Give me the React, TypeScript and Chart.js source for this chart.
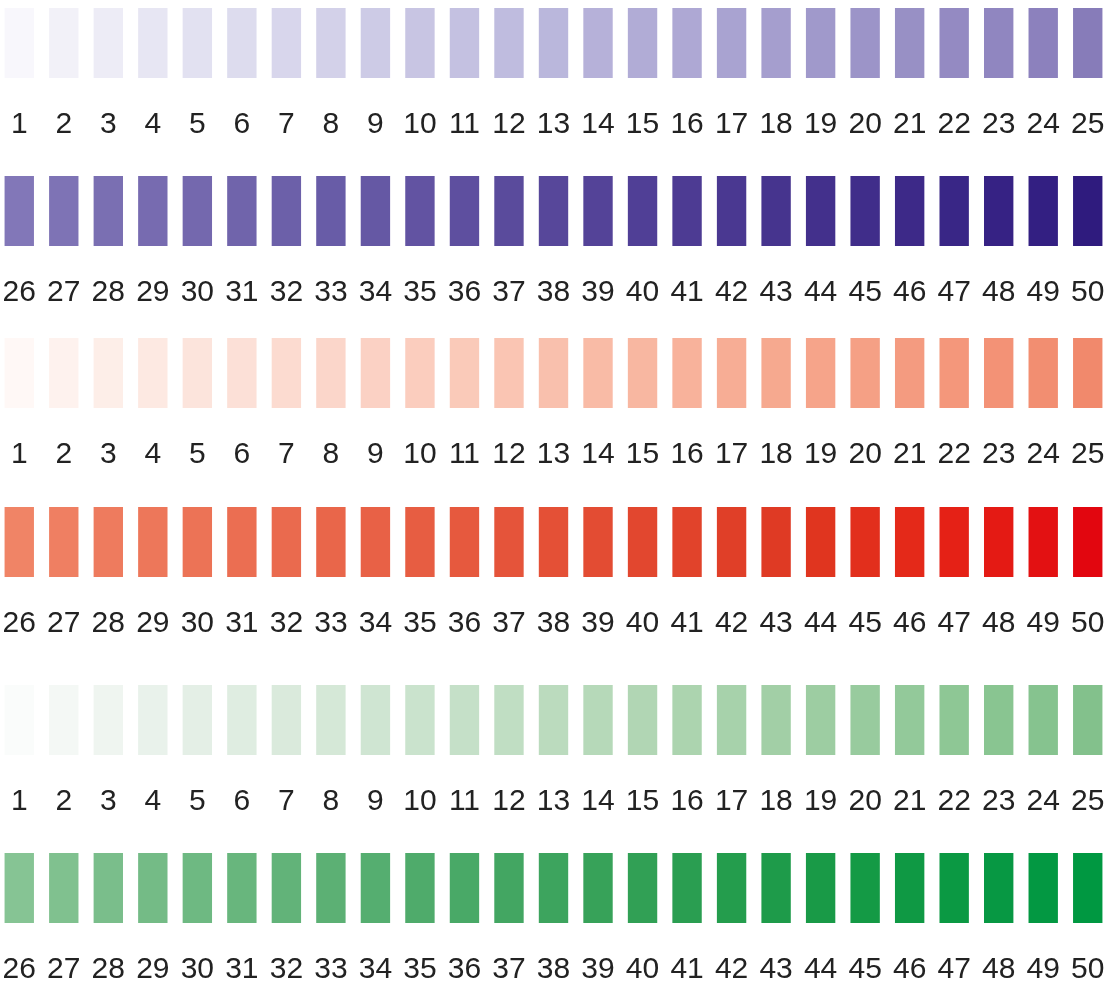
import React, { useEffect, useRef } from "react";
import { Chart, registerables } from "chart.js";

Chart.register(...registerables);

const labelsA = ["1","2","3","4","5","6","7","8","9","10","11","12","13","14","15","16","17","18","19","20","21","22","23","24","25"];
const labelsB = ["26","27","28","29","30","31","32","33","34","35","36","37","38","39","40","41","42","43","44","45","46","47","48","49","50"];

// every swatch has the same height (value 1)
const swatchValues = [1,1,1,1,1,1,1,1,1,1,1,1,1,1,1,1,1,1,1,1,1,1,1,1,1];

const purpleA = ["#f8f7fc","#f2f1f8","#edecf6","#e7e6f3","#e2e1f1","#dddcee","#d8d6ec","#d3d1e9","#cdcbe6","#c8c5e3","#c4c1e1","#bfbcdf","#bab7dc","#b6b1d9","#b1acd6","#aea8d4","#a9a3d1","#a59ece","#a099cb","#9c94c8","#9890c5","#948ac2","#9086c0","#8c81bd","#877cb9"];
const purpleB = ["#8277b8","#7e73b5","#7a6fb2","#776bb0","#7468ae","#7064ab","#6c60a9","#685ca7","#6558a4","#6253a2","#5e4f9f","#5a4b9c","#57479a","#544398","#503f96","#4d3b93","#4a3891","#46348e","#43308c","#402d8a","#3d2988","#392686","#362284","#331f82","#2f1b7e"];
const redA = ["#fff8f6","#fef2ee","#fdeee8","#fde9e2","#fce4dc","#fce0d7","#fcdbd0","#fbd6ca","#fbd1c4","#fbcdbe","#facab9","#fac5b3","#f9c0ad","#f9bba6","#f8b7a1","#f8b29b","#f7ad95","#f6a98f","#f6a48a","#f5a085","#f49b80","#f4977b","#f39276","#f28e71","#f1896c"];
const redB = ["#f08466","#ef7f62","#ee7b5e","#ed775a","#ec7356","#eb6e52","#ea6a4e","#e9664a","#e86146","#e75d42","#e6593e","#e5543a","#e45036","#e34c33","#e2472f","#e1432b","#e03f28","#df3a24","#e0351f","#e22f1c","#e42919","#e52116","#e41a14","#e31112","#e2060f"];
const greenA = ["#fafcfb","#f4f8f5","#eff5f0","#e9f2eb","#e4efe6","#dfede1","#daeadc","#d5e8d7","#cfe5d2","#cae3cd","#c5e0c8","#c0dec3","#bbdbbe","#b6d9b9","#b1d6b4","#acd4af","#a7d2ab","#a2cfa6","#9dcda2","#98cb9e","#93c99a","#8ec795","#89c591","#86c38f","#83c18c"];
const greenB = ["#86c494","#80c18f","#7abe8b","#74bb86","#6eb982","#68b67d","#62b379","#5cb074","#55ae70","#4fab6b","#49a967","#43a662","#3da45e","#37a259","#31a055","#2a9e51","#249d4d","#1e9b4a","#199a47","#149a45","#0f9944","#0b9943","#079843","#039842","#009841"];

const FONT = '"Liberation Sans", Arial, sans-serif';

function SwatchRow({ labels, colors, values, top }: { labels: string[]; colors: string[]; values: number[]; top: number }) {
  const ref = useRef<HTMLCanvasElement | null>(null);
  useEffect(() => {
    if (!ref.current) return;
    const chart = new Chart(ref.current, {
      type: "bar",
      data: {
        labels,
        datasets: [
          {
            data: values,
            backgroundColor: colors,
            borderWidth: 0,
            barPercentage: 0.66,
            categoryPercentage: 1,
          },
        ],
      },
      options: {
        animation: false,
        responsive: false,
        maintainAspectRatio: false,
        layout: { padding: 0 },
        plugins: { legend: { display: false }, tooltip: { enabled: false } },
        scales: {
          x: {
            grid: { display: false, drawTicks: true, tickLength: 29 },
            border: { display: false },
            ticks: {
              color: "#222222",
              font: { family: FONT, size: 30 },
              padding: 0,
              autoSkip: false,
              maxRotation: 0,
              minRotation: 0,
            },
          },
          y: { display: false, min: 0, max: 1 },
        },
      },
    });
    return () => chart.destroy();
  }, []);
  return (
    <canvas
      ref={ref}
      width={1113}
      height={135}
      style={{ position: "absolute", left: -3, top, width: 1113, height: 135 }}
    />
  );
}

export default function App() {
  return (
    <div style={{ position: "absolute", left: 0, top: 0, width: 1113, height: 987, overflow: "hidden", background: "#ffffff" }}>
      <SwatchRow labels={labelsA} colors={purpleA} values={swatchValues} top={8} />
      <SwatchRow labels={labelsB} colors={purpleB} values={swatchValues} top={176} />
      <SwatchRow labels={labelsA} colors={redA} values={swatchValues} top={338} />
      <SwatchRow labels={labelsB} colors={redB} values={swatchValues} top={507} />
      <SwatchRow labels={labelsA} colors={greenA} values={swatchValues} top={685} />
      <SwatchRow labels={labelsB} colors={greenB} values={swatchValues} top={853} />
    </div>
  );
}
